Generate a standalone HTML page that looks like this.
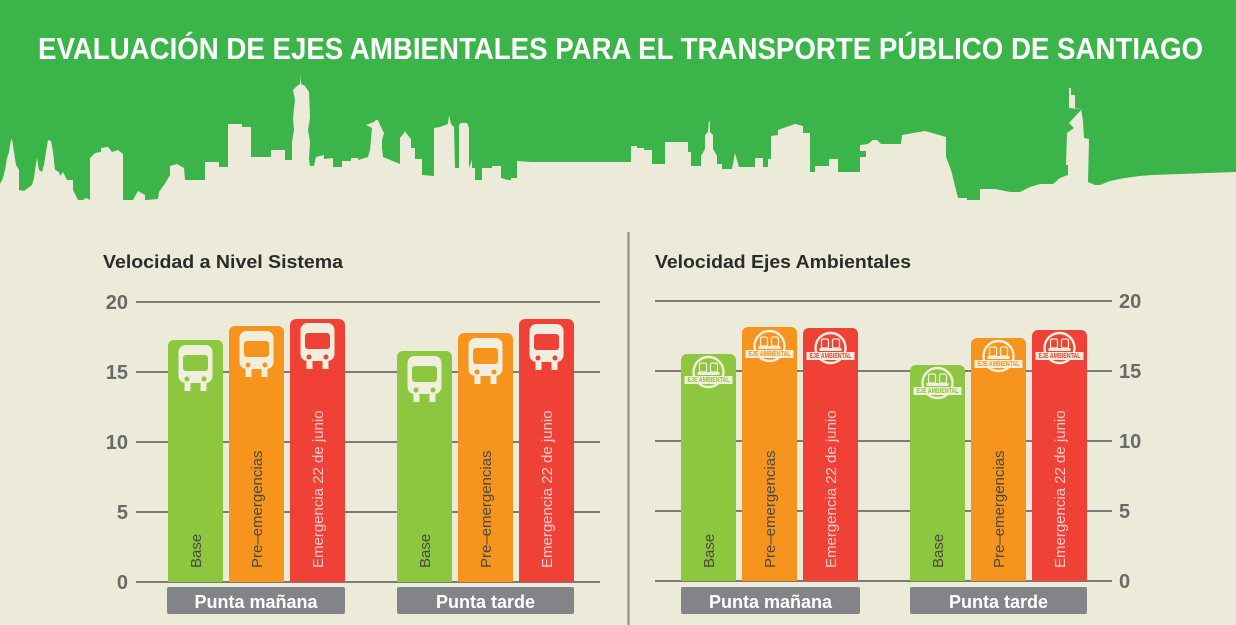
<!DOCTYPE html>
<html><head><meta charset="utf-8"><style>
html,body{margin:0;padding:0;background:#ecebd9;}
svg{display:block}
</style></head><body>
<svg width="1236" height="625" viewBox="0 0 1236 625" xmlns="http://www.w3.org/2000/svg" font-family="'Liberation Sans', sans-serif">
<defs>
<g id="bus">
  <rect x="-17" y="0" width="34" height="38" rx="7" fill="#f0eedd"/>
  <rect x="-11" y="38" width="6" height="8" fill="#f0eedd"/>
  <rect x="5" y="38" width="6" height="8" fill="#f0eedd"/>
</g>
<g id="eje">
  <circle cx="0" cy="0" r="15" fill="none" stroke="#f0eedd" stroke-width="2.4"/>
  <rect x="-9" y="-9" width="7" height="9" rx="1.5" fill="none" stroke="#f0eedd" stroke-width="1.3"/>
  <rect x="2" y="-9" width="7" height="9" rx="1.5" fill="none" stroke="#f0eedd" stroke-width="1.3"/>
  <rect x="-11" y="0" width="22" height="3" fill="#f0eedd"/>
  <rect x="-24" y="4" width="48" height="8" fill="#f0eedd"/>
</g>
</defs>
<rect width="1236" height="625" fill="#ecebd9"/>
<rect width="1236" height="200" fill="#3bb54a"/>
<polygon fill="#ecebd9" points="0,184 3,178 5,170 7,158 9,152 11,140 12,139 14,152 16,165 19,170 19,190 24,191 32,185 34,178 35,170 37,158 39,170 42,172 44,165 46,152 48,140 51,141 53,152 55,170 59,172 60,176 63,172 67,180 73,180 73,190 83,210 83,200 86,198 90,200 90,158 95,153 101,152 101,148 108,147 112,152 118,150 123,154 123,200 133,200 138,191 145,195 145,212 147,200 158,199 159,192 166,182 170,175 170,166 177,164 184,168 185,180 205,180 205,162 219,162 219,167 228,167 228,124 242,124 242,127 251,127 251,157 271,157 271,150 285,150 285,160 292,160 292,142 294,130 293,118 295,100 293,90 297,86 300,84 300,75 301,84 305,86 309,92 310,118 308,130 310,142 309,159 310,166 314,166 316,157 324,155 324,159 333,158 333,167 342,167 342,161 351,161 351,158 358,158 358,160 368,157 370,150 372,128 366,125 374,122 376,120 378,120 380,125 384,133 382,140 382,148 383,157 400,164 400,138 404,133 405,131 406,133 411,139 411,148 415,148 415,159 422,159 422,175 434,176 434,128 440,127 448,124 449,115 451,124 454,127 455,168 459,168 459,125 461,123 467,123 469,128 469,168 472,160 472,168 475,168 475,180 482,180 482,168 492,168 492,166 501,166 501,178 508,180 511,180 511,178 517,178 517,161 531,162 631,162 631,146 637,146 637,148 644,148 644,150 652,150 652,164 665,164 665,142 688,142 688,152 691,152 691,166 701,166 701,156 705,149 705,135 708,132 709,121 710,121 710,132 713,135 713,149 717,156 717,164 722,164 722,169 732,169 735,153 739,167 755,167 755,158 763,158 763,167 768,167 768,159 771,159 771,136 778,135 778,130 795,124 803,126 803,133 810,133 810,172 815,172 815,166 829,166 829,159 838,159 838,172 860,172 860,157 866,157 866,151 860,151 860,145 868,144 873,140 877,140 881,144 901,144 902,135 925,131 946,137 946,157 951,170 958,198 967,198 967,205 980,205 980,189 995,189 1010,192 1020,192 1030,187 1040,184 1053,184 1060,178 1068,175 1068,165 1066,165 1067,133 1074,128 1070,124 1069,123 1082,109 1069,108 1069,88 1071,88 1071,95 1075,95 1075,109 1081,109 1083,121 1084,138 1089,139 1088,182 1095,185 1100,185 1110,181 1125,178 1140,176 1152,175 1236,172 1236,625 0,625"/>
<text x="38" y="59" fill="#ffffff" font-size="31" font-weight="bold" textLength="1165" lengthAdjust="spacingAndGlyphs">EVALUACIÓN DE EJES AMBIENTALES PARA EL TRANSPORTE PÚBLICO DE SANTIAGO</text>

<line x1="628.5" y1="232" x2="628.5" y2="625" stroke="#8a8a86" stroke-width="2"/>

<text x="103" y="268" fill="#2b2b2b" font-size="18" font-weight="bold" textLength="240" lengthAdjust="spacingAndGlyphs">Velocidad a Nivel Sistema</text>
<text x="655" y="268" fill="#2b2b2b" font-size="18" font-weight="bold" textLength="256" lengthAdjust="spacingAndGlyphs">Velocidad Ejes Ambientales</text>

<g stroke="#7b7a74" stroke-width="2">
<line x1="136" y1="302" x2="600" y2="302"/><line x1="136" y1="372" x2="600" y2="372"/><line x1="136" y1="442" x2="600" y2="442"/><line x1="136" y1="512" x2="600" y2="512"/><line x1="136" y1="582" x2="600" y2="582"/>
<line x1="655" y1="301" x2="1112" y2="301"/><line x1="655" y1="371" x2="1112" y2="371"/><line x1="655" y1="441" x2="1112" y2="441"/><line x1="655" y1="511" x2="1112" y2="511"/><line x1="655" y1="581" x2="1112" y2="581"/>
</g>
<g fill="#6a6a68" font-size="20" font-weight="bold">
<g text-anchor="end"><text x="128" y="309">20</text><text x="128" y="379">15</text><text x="128" y="449">10</text><text x="128" y="519">5</text><text x="128" y="589">0</text></g>
<text x="1119" y="308">20</text><text x="1119" y="378">15</text><text x="1119" y="448">10</text><text x="1119" y="518">5</text><text x="1119" y="588">0</text>
</g>

<g>
<path d="M168,582 V346 a6,6 0 0 1 6,-6 H217 a6,6 0 0 1 6,6 V582Z" fill="#8dc63f"/>
<path d="M229,582 V332 a6,6 0 0 1 6,-6 H278 a6,6 0 0 1 6,6 V582Z" fill="#f7941d"/>
<path d="M290,582 V325 a6,6 0 0 1 6,-6 H339 a6,6 0 0 1 6,6 V582Z" fill="#ef4136"/>
<path d="M397,582 V357 a6,6 0 0 1 6,-6 H446 a6,6 0 0 1 6,6 V582Z" fill="#8dc63f"/>
<path d="M458,582 V339 a6,6 0 0 1 6,-6 H507 a6,6 0 0 1 6,6 V582Z" fill="#f7941d"/>
<path d="M519,582 V325 a6,6 0 0 1 6,-6 H568 a6,6 0 0 1 6,6 V582Z" fill="#ef4136"/>
</g>
<g>
<use href="#bus" x="195.5" y="345"/><rect x="183" y="355" width="25" height="16" rx="3" fill="#8dc63f"/><circle cx="187" cy="379" r="2.5" fill="#8dc63f"/><circle cx="204" cy="379" r="2.5" fill="#8dc63f"/>
<use href="#bus" x="256.5" y="331"/><rect x="244" y="341" width="25" height="16" rx="3" fill="#f7941d"/><circle cx="248" cy="365" r="2.5" fill="#f7941d"/><circle cx="265" cy="365" r="2.5" fill="#f7941d"/>
<use href="#bus" x="317.5" y="323"/><rect x="305" y="333" width="25" height="16" rx="3" fill="#ef4136"/><circle cx="309" cy="357" r="2.5" fill="#ef4136"/><circle cx="326" cy="357" r="2.5" fill="#ef4136"/>
<use href="#bus" x="424.5" y="356"/><rect x="412" y="366" width="25" height="16" rx="3" fill="#8dc63f"/><circle cx="416" cy="390" r="2.5" fill="#8dc63f"/><circle cx="433" cy="390" r="2.5" fill="#8dc63f"/>
<use href="#bus" x="485.5" y="338"/><rect x="473" y="348" width="25" height="16" rx="3" fill="#f7941d"/><circle cx="477" cy="372" r="2.5" fill="#f7941d"/><circle cx="494" cy="372" r="2.5" fill="#f7941d"/>
<use href="#bus" x="546.5" y="324"/><rect x="534" y="334" width="25" height="16" rx="3" fill="#ef4136"/><circle cx="538" cy="358" r="2.5" fill="#ef4136"/><circle cx="555" cy="358" r="2.5" fill="#ef4136"/>
</g>
<g>
<path d="M681,581 V360 a6,6 0 0 1 6,-6 H730 a6,6 0 0 1 6,6 V581Z" fill="#8dc63f"/>
<path d="M742,581 V333 a6,6 0 0 1 6,-6 H791 a6,6 0 0 1 6,6 V581Z" fill="#f7941d"/>
<path d="M803,581 V334 a6,6 0 0 1 6,-6 H852 a6,6 0 0 1 6,6 V581Z" fill="#ef4136"/>
<path d="M910,581 V371 a6,6 0 0 1 6,-6 H959 a6,6 0 0 1 6,6 V581Z" fill="#8dc63f"/>
<path d="M971,581 V344 a6,6 0 0 1 6,-6 H1020 a6,6 0 0 1 6,6 V581Z" fill="#f7941d"/>
<path d="M1032,581 V336 a6,6 0 0 1 6,-6 H1081 a6,6 0 0 1 6,6 V581Z" fill="#ef4136"/>
</g>
<g font-size="7" font-weight="bold">
<use href="#eje" x="708.5" y="372"/><text x="687.5" y="382" fill="#8dc63f" textLength="42" lengthAdjust="spacingAndGlyphs">EJE AMBIENTAL</text>
<use href="#eje" x="769.5" y="346"/><text x="748.5" y="356" fill="#f7941d" textLength="42" lengthAdjust="spacingAndGlyphs">EJE AMBIENTAL</text>
<use href="#eje" x="830.5" y="348"/><text x="809.5" y="358" fill="#ef4136" textLength="42" lengthAdjust="spacingAndGlyphs">EJE AMBIENTAL</text>
<use href="#eje" x="937.5" y="383"/><text x="916.5" y="393" fill="#8dc63f" textLength="42" lengthAdjust="spacingAndGlyphs">EJE AMBIENTAL</text>
<use href="#eje" x="998.5" y="356"/><text x="977.5" y="366" fill="#f7941d" textLength="42" lengthAdjust="spacingAndGlyphs">EJE AMBIENTAL</text>
<use href="#eje" x="1059.5" y="348"/><text x="1038.5" y="358" fill="#ef4136" textLength="42" lengthAdjust="spacingAndGlyphs">EJE AMBIENTAL</text>
</g>
<g font-size="15">
<text transform="translate(201,568) rotate(-90)" fill="#4a4a3c">Base</text>
<text transform="translate(262,568) rotate(-90)" fill="#4a4a3c">Pre–emergencias</text>
<text transform="translate(323,568) rotate(-90)" fill="#f9cccc">Emergencia 22 de junio</text>
<text transform="translate(430,568) rotate(-90)" fill="#4a4a3c">Base</text>
<text transform="translate(491,568) rotate(-90)" fill="#4a4a3c">Pre–emergencias</text>
<text transform="translate(552,568) rotate(-90)" fill="#f9cccc">Emergencia 22 de junio</text>
<text transform="translate(714,568) rotate(-90)" fill="#4a4a3c">Base</text>
<text transform="translate(775,568) rotate(-90)" fill="#4a4a3c">Pre–emergencias</text>
<text transform="translate(836,568) rotate(-90)" fill="#f9cccc">Emergencia 22 de junio</text>
<text transform="translate(943,568) rotate(-90)" fill="#4a4a3c">Base</text>
<text transform="translate(1004,568) rotate(-90)" fill="#4a4a3c">Pre–emergencias</text>
<text transform="translate(1065,568) rotate(-90)" fill="#f9cccc">Emergencia 22 de junio</text>
</g>
<g fill="#838487">
<rect x="167" y="587" width="178" height="27" rx="2"/>
<rect x="397" y="587" width="177" height="27" rx="2"/>
<rect x="681" y="587" width="179" height="27" rx="2"/>
<rect x="910" y="587" width="177" height="27" rx="2"/>
</g>
<g fill="#ffffff" font-size="18" font-weight="bold" text-anchor="middle">
<text x="256" y="608">Punta mañana</text>
<text x="485.5" y="608">Punta tarde</text>
<text x="770.5" y="608">Punta mañana</text>
<text x="998.5" y="608">Punta tarde</text>
</g>
</svg>
</body></html>
